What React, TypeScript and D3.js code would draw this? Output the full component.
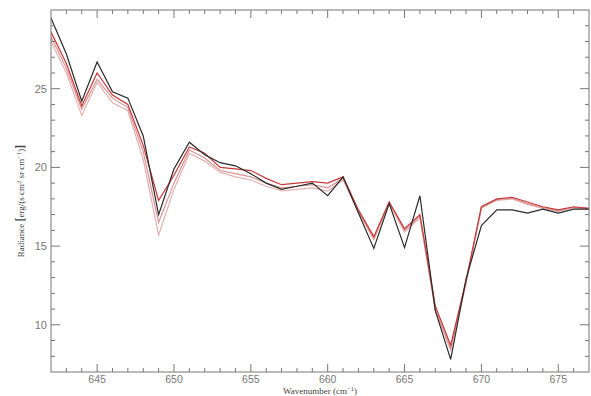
import { useRef, useEffect } from "react";
import * as d3 from "d3";

// wavenumber grid (cm^-1)
const wavenumber = [
  642, 643, 644, 645, 646, 647, 648, 649, 650, 651, 652, 653, 654, 655, 656, 657, 658, 659,
  660, 661, 662, 663, 664, 665, 666, 667, 668, 669, 670, 671, 672, 673, 674, 675, 676, 677,
];

// radiance series
const seriesBlack = [
  29.5, 27.2, 24.2, 26.7, 24.8, 24.4, 22.0, 17.0, 19.9, 21.6, 20.8, 20.3, 20.1, 19.6, 19.0, 18.6, 18.8, 19.0,
  18.2, 19.4, 17.1, 14.85, 17.7, 14.9, 18.2, 10.9, 7.8, 12.9, 16.3, 17.3, 17.3, 17.1, 17.35, 17.1, 17.35, 17.35,
];
const seriesA = [
  28.6, 26.6, 23.9, 26.0, 24.6, 24.0, 21.4, 17.9, 19.5, 21.3, 20.9, 20.0, 19.9, 19.8, 19.3, 18.9, 19.0, 19.1,
  19.0, 19.4, 17.3, 15.6, 17.8, 16.1, 17.0, 11.2, 8.7, 12.8, 17.5, 18.0, 18.1, 17.8, 17.5, 17.3, 17.5, 17.4,
];
const seriesB = [
  28.3, 26.3, 23.7, 25.6, 24.4, 23.8, 21.0, 16.5, 19.0, 21.1, 20.6, 19.8, 19.6, 19.4, 19.0, 18.7, 18.8, 18.9,
  18.7, 19.3, 17.2, 15.5, 17.8, 16.0, 16.9, 11.0, 8.5, 12.7, 17.4, 17.95, 18.05, 17.7, 17.45, 17.25, 17.45, 17.4,
];
const seriesC = [
  28.0, 26.0, 23.3, 25.4, 24.1, 23.6, 20.5, 15.7, 18.6, 20.9, 20.4, 19.7, 19.4, 19.2, 18.8, 18.5, 18.6, 18.7,
  18.5, 19.2, 17.2, 15.4, 17.7, 15.9, 16.8, 10.9, 8.4, 12.6, 17.5, 17.9, 18.0, 17.65, 17.4, 17.2, 17.45, 17.35,
];

const xTicks = [645, 650, 655, 660, 665, 670, 675];
const yTicks = [10, 15, 20, 25];

export default function App() {
  const ref = useRef<SVGSVGElement>(null);

  useEffect(() => {
    if (!ref.current) return;
    const svg = d3.select(ref.current);
    svg.selectAll("*").remove();

    const width = 591;
    const height = 396;
    const left = 51, right = 589, top = 10, bottom = 372;

    const x = d3.scaleLinear().domain([642, 677]).range([left, right]);
    const y = d3.scaleLinear().domain([7, 30]).range([bottom, top]);

    svg.attr("width", width).attr("height", height);
    svg.append("rect").attr("width", width).attr("height", height).attr("fill", "#fff");

    const g = svg.append("g");

    // lines
    const line = d3.line<number>()
      .x((_, i) => x(wavenumber[i]))
      .y(d => y(d));

    const series = [
      { values: seriesC, color: "#e4b0b0" },
      { values: seriesB, color: "#d99494" },
      { values: seriesA, color: "#c8383a" },
      { values: seriesBlack, color: "#2a2a2a" },
    ];
    const clip = svg.append("clipPath").attr("id", "plot-clip");
    clip.append("rect").attr("x", left).attr("y", top).attr("width", right - left).attr("height", bottom - top);

    g.append("g").attr("clip-path", "url(#plot-clip)")
      .selectAll("path")
      .data(series)
      .join("path")
      .attr("d", d => line(d.values))
      .attr("fill", "none")
      .attr("stroke", d => d.color)
      .attr("stroke-width", 1.2)
      .attr("stroke-linejoin", "miter");

    // frame
    g.append("rect")
      .attr("x", left).attr("y", top)
      .attr("width", right - left).attr("height", bottom - top)
      .attr("fill", "none").attr("stroke", "#777").attr("stroke-width", 1);

    const axisColor = "#777";
    const minorX = d3.range(643, 677, 1).filter(v => v % 5 !== 0);
    const minorY = d3.range(8, 30, 1).filter(v => v % 5 !== 0);

    // x ticks bottom and top (inward)
    const xt = g.append("g").attr("stroke", axisColor);
    xTicks.forEach(v => {
      xt.append("line").attr("x1", x(v)).attr("x2", x(v)).attr("y1", bottom).attr("y2", bottom - 8);
      xt.append("line").attr("x1", x(v)).attr("x2", x(v)).attr("y1", top).attr("y2", top + 8);
    });
    minorX.forEach(v => {
      xt.append("line").attr("x1", x(v)).attr("x2", x(v)).attr("y1", bottom).attr("y2", bottom - 4);
      xt.append("line").attr("x1", x(v)).attr("x2", x(v)).attr("y1", top).attr("y2", top + 4);
    });

    // y ticks left and right (inward)
    const yt = g.append("g").attr("stroke", axisColor);
    yTicks.forEach(v => {
      yt.append("line").attr("x1", left).attr("x2", left + 9).attr("y1", y(v)).attr("y2", y(v));
      yt.append("line").attr("x1", right).attr("x2", right - 9).attr("y1", y(v)).attr("y2", y(v));
    });
    minorY.forEach(v => {
      yt.append("line").attr("x1", left).attr("x2", left + 4).attr("y1", y(v)).attr("y2", y(v));
      yt.append("line").attr("x1", right).attr("x2", right - 4).attr("y1", y(v)).attr("y2", y(v));
    });

    // tick labels
    g.append("g")
      .selectAll("text")
      .data(xTicks)
      .join("text")
      .attr("x", d => x(d))
      .attr("y", bottom + 11)
      .attr("text-anchor", "middle")
      .attr("font-family", "Liberation Sans, Arial, sans-serif")
      .attr("font-size", 10.5)
      .attr("fill", "#777")
      .text(d => d);

    g.append("g")
      .selectAll("text")
      .data(yTicks)
      .join("text")
      .attr("x", left - 4)
      .attr("y", d => y(d) + 4)
      .attr("text-anchor", "end")
      .attr("font-family", "Liberation Sans, Arial, sans-serif")
      .attr("font-size", 11)
      .attr("fill", "#777")
      .text(d => d);

    // axis titles
    const xTitle = g.append("text")
      .attr("x", (left + right) / 2)
      .attr("y", 394)
      .attr("text-anchor", "middle")
      .attr("font-family", "Liberation Serif, Times New Roman, serif")
      .attr("font-size", 9)
      .attr("fill", "#444");
    xTitle.append("tspan").text("Wavenumber (cm");
    xTitle.append("tspan").attr("dy", -3).attr("font-size", 6.5).text("−1");
    xTitle.append("tspan").attr("dy", 3).text(")");

    const yTitle = g.append("text")
      .attr("transform", `translate(24, ${(top + bottom) / 2 + 10}) rotate(-90)`)
      .attr("text-anchor", "middle")
      .attr("font-family", "Liberation Serif, Times New Roman, serif")
      .attr("font-size", 9)
      .attr("fill", "#444");
    yTitle.append("tspan").text("Radiance ");
    yTitle.append("tspan").attr("font-size", 12).attr("font-weight", "bold").text("[");
    yTitle.append("tspan").text("erg/(s cm");
    yTitle.append("tspan").attr("dy", -3).attr("font-size", 6.5).text("2");
    yTitle.append("tspan").attr("dy", 3).text(" sr cm");
    yTitle.append("tspan").attr("dy", -3).attr("font-size", 6.5).text("−1");
    yTitle.append("tspan").attr("dy", 3).text(")");
    yTitle.append("tspan").attr("font-size", 12).attr("font-weight", "bold").text("]");
  }, []);

  return <svg ref={ref} style={{ display: "block", position: "absolute", left: 0, top: 0 }} />;
}
